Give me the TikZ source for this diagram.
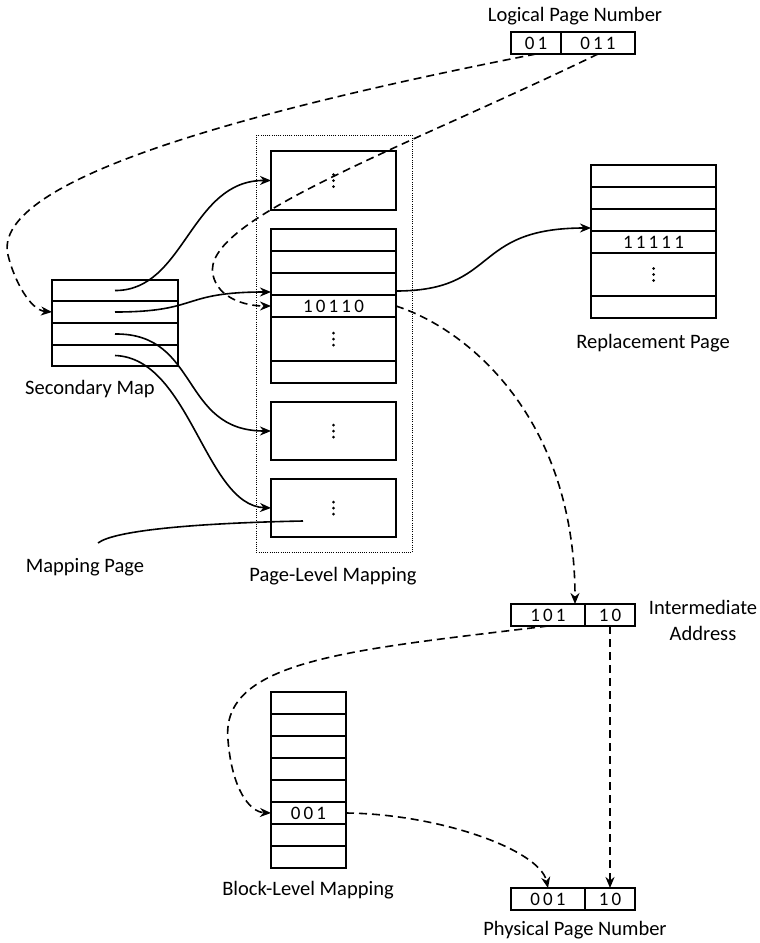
\documentclass[tikz,border=0pt]{standalone}
\usepackage{fontspec}
\setmainfont{Carlito}
\usetikzlibrary{arrows.meta}
\newcommand\bitfont{\fontsize{19}{22}\selectfont}
\newcommand\lblfont{\fontsize{20.5}{26}\selectfont}
\begin{document}
\begin{tikzpicture}[x=1pt,y=-1pt,
  box/.style={draw, line width=1.4pt, inner sep=0pt, outer sep=0pt, anchor=north west, font=\bitfont},
  lbl/.style={font=\lblfont, inner sep=0pt},
  tip/.style={-{Stealth[length=11pt,width=9pt,inset=3.5pt]}},
  solidlink/.style={line width=1.6pt},
  dashlink/.style={line width=1.6pt, dash pattern=on 8pt off 5pt},
  vdots/.pic={\fill (0,-6) circle (1.5pt) (0,0) circle (1.5pt) (0,6) circle (1.5pt);}
]
\useasboundingbox (0,0) rectangle (760,943);

% logical page number
\node[lbl] (tLPN) at (575,16) {Logical Page Number};
\node[box, minimum width=50pt, minimum height=22pt] (l1) at (511,32) {0\,1};
\node[box, minimum width=74pt, minimum height=22pt] (l2) at (561,32) {0\,1\,1};

% secondary map
\node[box, minimum width=126pt, minimum height=21pt] (s1) at (52,280) {};
\node[box, minimum width=126pt, minimum height=22pt] (s2) at (52,301) {};
\node[box, minimum width=126pt, minimum height=22pt] (s3) at (52,323) {};
\node[box, minimum width=126pt, minimum height=21pt] (s4) at (52,345) {};
\node[lbl] (tSec) at (90,389) {Secondary Map};

% page-level mapping
\node[draw, line width=0.9pt, dash pattern=on 1pt off 1.2pt, inner sep=0pt, anchor=north west,
      minimum width=156pt, minimum height=417pt] (frame) at (256,135) {};
\node[lbl] (tPLM) at (333,576) {Page-Level Mapping};

\node[box, minimum width=125pt, minimum height=59pt] (pA) at (271,151) {};
\pic at (pA.center) {vdots};

\node[box, minimum width=125pt, minimum height=22pt] (b1) at (271,229) {};
\node[box, minimum width=125pt, minimum height=22pt] (b2) at (271,251) {};
\node[box, minimum width=125pt, minimum height=22pt] (b3) at (271,273) {};
\node[box, minimum width=125pt, minimum height=22pt] (b4) at (271,295) {1\,0\,1\,1\,0};
\node[box, minimum width=125pt, minimum height=44pt] (b5) at (271,317) {};
\pic at (b5.center) {vdots};
\node[box, minimum width=125pt, minimum height=22pt] (b6) at (271,361) {};

\node[box, minimum width=125pt, minimum height=58pt] (pC) at (271,402) {};
\pic at (pC.center) {vdots};
\node[box, minimum width=125pt, minimum height=58pt] (pD) at (271,479) {};
\pic at (pD.center) {vdots};

\node[lbl] (tMap) at (85,567) {Mapping Page};
\coordinate (mapEnd) at (303,521);

% replacement page
\node[box, minimum width=125pt, minimum height=22pt] (r1) at (591,165) {};
\node[box, minimum width=125pt, minimum height=22pt] (r2) at (591,187) {};
\node[box, minimum width=125pt, minimum height=22pt] (r3) at (591,209) {};
\node[box, minimum width=125pt, minimum height=22pt] (r4) at (591,231) {1\,1\,1\,1\,1};
\node[box, minimum width=125pt, minimum height=43pt] (r5) at (591,253) {};
\pic at (r5.center) {vdots};
\node[box, minimum width=125pt, minimum height=22pt] (r6) at (591,296) {};
\node[lbl] (tRep) at (653,343) {Replacement Page};

% intermediate address
\node[box, minimum width=74pt, minimum height=22pt] (i1) at (511,604) {1\,0\,1};
\node[box, minimum width=50pt, minimum height=22pt] (i2) at (585,604) {1\,0};
\node[lbl, align=center] (tInt) at (703,620) {Intermediate\\Address};

% block-level mapping
\node[box, minimum width=75pt, minimum height=22pt] (k1) at (271,692) {};
\node[box, minimum width=75pt, minimum height=22pt] (k2) at (271,714) {};
\node[box, minimum width=75pt, minimum height=22pt] (k3) at (271,736) {};
\node[box, minimum width=75pt, minimum height=22pt] (k4) at (271,758) {};
\node[box, minimum width=75pt, minimum height=22pt] (k5) at (271,780) {};
\node[box, minimum width=75pt, minimum height=22pt] (k6) at (271,802) {0\,0\,1};
\node[box, minimum width=75pt, minimum height=22pt] (k7) at (271,824) {};
\node[box, minimum width=75pt, minimum height=22pt] (k8) at (271,846) {};
\node[lbl] (tBLM) at (308,890) {Block-Level Mapping};

% physical page number
\node[box, minimum width=74pt, minimum height=22pt] (p1) at (511,888) {0\,0\,1};
\node[box, minimum width=50pt, minimum height=22pt] (p2) at (585,888) {1\,0};
\node[lbl] (tPPN) at (575,930) {Physical Page Number};

% secondary map -> mapping pages
\draw[solidlink, tip] (s1.center) .. controls (185,291) and (190,180) .. (pA.west);
\draw[solidlink, tip] (s2.center) .. controls (200,312) and (180,292) .. ([yshift=3pt]b3.south west);
\draw[solidlink, tip] (s3.center) .. controls (200,333) and (180,431) .. (pC.west);
\draw[solidlink, tip] (s4.center) .. controls (190,358) and (205,505) .. (pD.west);

% mapping page -> replacement page
\draw[solidlink, tip] ([yshift=4pt]b3.south east) .. controls (500,291) and (470,228) .. ([yshift=3pt]r3.south west);

% label pointer
\draw[solidlink] (tMap.north) ++(13,-15) coordinate (mapStart)
  .. controls (115,530) and (200,523) .. (mapEnd);

% logical page number -> secondary map and page-level mapping
\draw[dashlink, tip] (l1.south) .. controls (250,110) and (-10,180) .. (8,255)
  .. controls (14,280) and (30,310) .. (s2.west);
\draw[dashlink, tip] (l2.south) .. controls (400,150) and (200,220) .. (213,275)
  .. controls (218,298) and (245,306) .. (b4.west);

% page-level entry -> intermediate address
\draw[dashlink, tip] (b4.east) .. controls (470,330) and (575,420) .. ([xshift=-10pt]i1.north east);

% intermediate address -> block-level mapping and physical page number
\draw[dashlink, tip] (i1.south) .. controls (350,650) and (220,660) .. (228,740)
  .. controls (232,790) and (250,812) .. (k6.west);
\draw[dashlink, tip] (i2.south) -- (p2.north);
\draw[dashlink, tip] (k6.east) .. controls (440,814) and (540,850) .. (p1.north);
\end{tikzpicture}
\end{document}
